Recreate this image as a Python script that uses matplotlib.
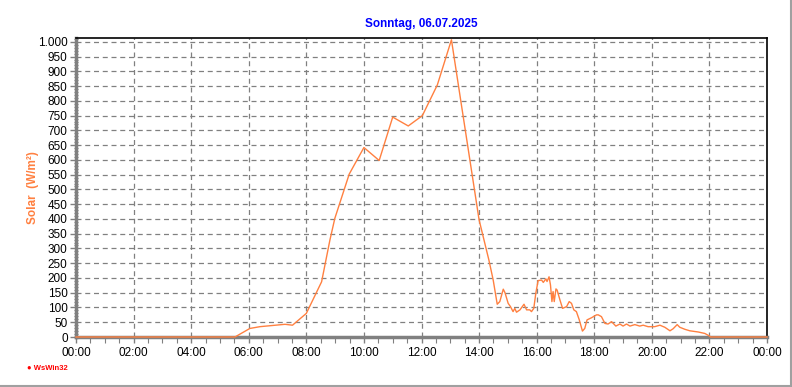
import numpy as np
import matplotlib.pyplot as plt
from matplotlib.ticker import MultipleLocator, FuncFormatter

# time of day in hours, solar radiation in W/m²
hours = [0.0, 5.52, 6.04, 6.39, 7.26, 7.52, 8.0, 8.53, 8.82, 8.99, 9.49, 10.0,
         10.53, 11.0, 11.54, 12.03, 12.55, 13.04, 13.36, 14.0, 14.34, 14.49,
         14.63, 14.72, 14.84, 14.90, 15.01, 15.09, 15.18, 15.24, 15.30, 15.42,
         15.56, 15.65, 15.76, 15.82, 15.90, 15.97, 16.05, 16.17, 16.23, 16.32,
         16.36, 16.43, 16.48, 16.53, 16.57, 16.61, 16.67, 16.71, 16.81, 16.90,
         17.04, 17.13, 17.21, 17.29, 17.38, 17.48, 17.59, 17.67, 17.75, 17.90,
         18.08, 18.14, 18.25, 18.37, 18.48, 18.60, 18.75, 18.89, 19.00, 19.12,
         19.24, 19.41, 19.58, 19.70, 19.87, 20.10, 20.28, 20.45, 20.63, 20.74,
         20.88, 20.97, 21.15, 21.32, 21.61, 21.84, 21.99, 22.04, 24.0]
solar = [0, 0, 29, 35, 43, 40, 80, 187, 329, 402, 552, 642,
         598, 745, 715, 750, 854, 1007, 803, 397, 261, 193,
         111, 120, 162, 150, 114, 103, 86, 97, 84, 92,
         111, 92, 92, 86, 97, 148, 191, 193, 185, 197,
         188, 204, 176, 120, 154, 120, 163, 159, 125, 97,
         103, 120, 114, 92, 86, 58, 20, 29, 58, 65,
         75, 75, 69, 46, 44, 52, 37, 44, 37, 44,
         37, 42, 37, 40, 35, 35, 40, 33, 21, 28,
         42, 33, 26, 21, 17, 12, 4, 0, 0]

xtick_pos = list(range(0, 25, 2))
xtick_labels = ['%02d:00' % (h % 24) for h in xtick_pos]

title = 'Sonntag, 06.07.2025'
ylabel = 'Solar  (W/m²)'

plt.rcParams['font.family'] = ['Liberation Sans', 'DejaVu Sans']

fig = plt.figure(figsize=(7.92, 3.87), dpi=100)
ax = fig.add_axes([76/792, 1 - 337/387, (767 - 76)/792, (337 - 38)/387])

ax.plot(hours, solar, color='#ff8040', lw=1.0, zorder=3, clip_on=False)

ax.set_xlim(0, 24)
ax.set_ylim(0, 1013)
ax.set_xticks(xtick_pos)
ax.set_xticklabels(xtick_labels)
ax.xaxis.set_minor_locator(MultipleLocator(0.5))
ax.yaxis.set_major_locator(MultipleLocator(50))
ax.yaxis.set_minor_locator(MultipleLocator(10))
ax.yaxis.set_major_formatter(FuncFormatter(lambda v, p: f'{int(v):,}'.replace(',', '.')))

ax.grid(True, which='major', color='#808080', ls=(0, (4, 3)), lw=0.9)
ax.tick_params(which='major', length=4, width=1, color='#808080', labelsize=8.5, pad=2)
ax.tick_params(which='minor', length=3, width=0.8, color='#808080', direction='inout')
ax.tick_params(axis='x', which='both', direction='out', length=4)
ax.tick_params(axis='x', which='major', pad=3)

for s in ('left', 'bottom'):
    ax.spines[s].set_color('#808080')
    ax.spines[s].set_linewidth(2.5)
for s in ('top', 'right'):
    ax.spines[s].set_color('black')
    ax.spines[s].set_linewidth(1.2)

ax.set_title(title, color='#0000ff', fontsize=8.5, fontweight='bold', pad=8)
fig.text(33/792, 1 - 188/387, ylabel, rotation=90, color='#ff8040', fontsize=8.5,
         fontweight='bold', ha='center', va='center')

fig.text(27/792, 1 - 368/387, '● WsWin32', color='red', fontsize=5.5, fontweight='bold',
         ha='left', va='center')

# outer frame lines (right and bottom)
fig.add_artist(plt.Line2D([0, 1], [1/387, 1/387], color='#a0a0a0', lw=1.5))
fig.add_artist(plt.Line2D([1 - 1/792, 1 - 1/792], [0, 1], color='#a0a0a0', lw=1.5))

fig.savefig('out.png', dpi=100)
